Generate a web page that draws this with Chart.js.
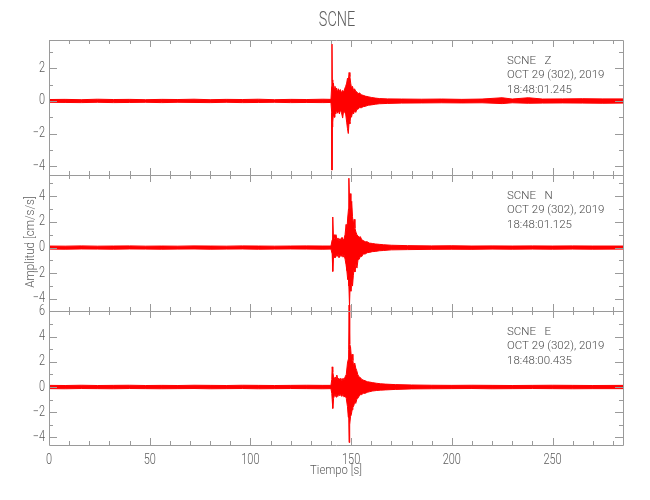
<!DOCTYPE html>
<html>
<head>
<meta charset="utf-8">
<script src="https://cdn.jsdelivr.net/npm/chart.js@4.4.0/dist/chart.umd.min.js"></script>
<style>
  html, body { margin: 0; background: #fff; }
  #wrap { position: relative; width: 650px; height: 500px; }
  #wrap canvas { position: absolute; left: 0; top: 0; }
</style>
</head>
<body>
<div id="wrap">
  <canvas id="chartZ" width="650" height="500"></canvas>
  <canvas id="chartN" width="650" height="500"></canvas>
  <canvas id="chartE" width="650" height="500"></canvas>
</div>
<script>
// values (envelope of each trace, cm/s/s)
const STATION = 'SCNE';
const X_TICKS = [0, 50, 100, 150, 200, 250];
const X_MAX = 285;

const Z_TIME = [0, 8, 16, 24, 32, 40, 48, 56, 64, 72, 80, 88, 96, 104, 112, 120, 128, 136, 140,
  140.35, 140.5, 140.65, 140.9, 141.2, 141.6, 142, 142.4, 142.8, 143.2, 143.7, 144.2, 144.7, 145.2, 145.8,
  146.3, 146.8, 147.3, 147.8, 148.2, 148.6, 149, 149.4, 149.8, 150.2, 150.7, 151.2, 151.7, 152.3, 152.9,
  153.5, 154.2, 155, 156, 157, 158.5, 160, 162, 164, 168, 175, 185, 195, 205, 215,
  225, 230, 238, 245, 255, 265, 275, 285];
const Z_UP = [0.09, 0.10, 0.08, 0.11, 0.09, 0.10, 0.08, 0.10, 0.09, 0.11, 0.08, 0.10, 0.09, 0.11, 0.08, 0.10, 0.09, 0.11, 0.10,
  0.9, 3.5, 1.3, 0.9, 1.1, 0.7, 0.9, 0.6, 0.8, 0.55, 0.75, 0.6, 0.7, 0.5, 0.65,
  0.55, 0.75, 0.9, 1.1, 1.4, 1.2, 1.75, 1.5, 1.1, 0.8, 0.9, 0.65, 0.75, 0.6, 0.55,
  0.45, 0.5, 0.38, 0.35, 0.3, 0.26, 0.22, 0.18, 0.15, 0.13, 0.12, 0.11, 0.12, 0.10, 0.12,
  0.2, 0.12, 0.2, 0.12, 0.13, 0.14, 0.13, 0.13];
const Z_LO = [-0.08, -0.09, -0.10, -0.08, -0.10, -0.09, -0.08, -0.10, -0.08, -0.09, -0.10, -0.08, -0.10, -0.09, -0.08, -0.10, -0.09, -0.10, -0.09,
  -0.7, -4.25, -1.6, -1.3, -0.8, -1.0, -0.6, -0.8, -0.55, -0.75, -0.6, -0.8, -0.55, -0.7, -1.05,
  -0.6, -0.7, -0.8, -1.3, -1.7, -2.0, -1.3, -1.4, -0.9, -1.0, -0.7, -0.8, -0.6, -0.7, -0.5,
  -0.5, -0.4, -0.42, -0.35, -0.33, -0.26, -0.24, -0.2, -0.17, -0.15, -0.13, -0.12, -0.11, -0.12, -0.11,
  -0.16, -0.11, -0.14, -0.13, -0.12, -0.13, -0.14, -0.13];

const N_TIME = [0, 8, 16, 24, 32, 40, 48, 56, 64, 72, 80, 88, 96, 104, 112, 120, 128, 136, 140,
  140.6, 140.9, 141.2, 141.6, 142, 142.5, 143, 143.5, 144, 144.5, 145, 145.5, 146, 146.5, 147, 147.5, 147.9,
  148.3, 148.7, 148.9, 149.2, 149.5, 149.9, 150.3, 150.7, 151.1, 151.5, 151.9, 152.4, 152.9, 153.4, 154,
  154.6, 155.3, 156, 157, 158, 159, 160.5, 162, 164, 166, 170, 178, 190,
  200, 210, 220, 230, 240, 250, 260, 270, 285];
const N_UP = [0.12, 0.11, 0.13, 0.11, 0.12, 0.13, 0.11, 0.12, 0.11, 0.13, 0.12, 0.11, 0.13, 0.12, 0.11, 0.12, 0.13, 0.12, 0.12,
  0.6, 2.38, 0.9, 1.0, 0.7, 1.0, 0.6, 0.75, 0.55, 0.7, 0.6, 0.8, 0.6, 0.7, 1.0, 1.8, 1.3,
  2.3, 3.0, 5.4, 3.8, 4.2, 3.0, 3.6, 2.4, 1.8, 2.2, 1.5, 1.2, 1.0, 0.9, 0.8,
  0.85, 0.6, 0.55, 0.45, 0.45, 0.35, 0.32, 0.28, 0.25, 0.22, 0.18, 0.15, 0.13,
  0.14, 0.12, 0.13, 0.12, 0.13, 0.12, 0.13, 0.12, 0.12];
const N_LO = [-0.12, -0.13, -0.11, -0.12, -0.13, -0.11, -0.12, -0.13, -0.12, -0.11, -0.13, -0.12, -0.11, -0.13, -0.12, -0.11, -0.12, -0.13, -0.12,
  -0.5, -1.86, -0.9, -0.6, -0.8, -0.6, -0.7, -0.55, -0.8, -0.6, -0.7, -0.55, -0.75, -0.6, -0.9, -1.35, -1.8,
  -2.5, -2.2, -3.0, -4.55, -3.0, -3.4, -2.6, -3.0, -2.2, -1.6, -1.9, -1.3, -1.6, -1.0, -0.9,
  -0.7, -0.7, -0.5, -0.5, -0.4, -0.38, -0.32, -0.3, -0.25, -0.23, -0.18, -0.16, -0.14,
  -0.13, -0.14, -0.12, -0.13, -0.12, -0.13, -0.12, -0.13, -0.12];

const E_TIME = [0, 8, 16, 24, 32, 40, 48, 56, 64, 72, 80, 88, 96, 104, 112, 120, 128, 136, 140,
  140.4, 140.6, 140.9, 141.3, 141.7, 142.1, 142.5, 142.9, 143.4, 143.9, 144.4, 144.9, 145.4, 146, 146.5, 147, 147.6,
  148.2, 148.6, 148.8, 149, 149.3, 149.7, 150.1, 150.5, 150.9, 151.3, 151.8, 152.3, 152.8, 153.3, 153.9,
  154.6, 155.3, 156, 157, 158, 159, 160.5, 162.5, 164.5, 167, 172, 180, 190,
  200, 210, 220, 230, 240, 250, 260, 270, 285];
const E_UP = [0.13, 0.12, 0.14, 0.12, 0.13, 0.14, 0.12, 0.13, 0.12, 0.14, 0.13, 0.12, 0.14, 0.13, 0.12, 0.13, 0.14, 0.13, 0.13,
  0.6, 1.6, 1.2, 0.8, 0.6, 0.8, 0.6, 0.95, 0.6, 0.7, 0.55, 0.7, 0.5, 0.7, 0.55, 0.8, 1.0,
  1.9, 2.2, 3.0, 6.5, 3.4, 3.2, 2.4, 2.6, 2.1, 1.6, 1.9, 1.5, 1.3, 1.0, 0.8,
  0.75, 0.6, 0.55, 0.5, 0.42, 0.4, 0.35, 0.3, 0.26, 0.23, 0.19, 0.16, 0.14,
  0.13, 0.14, 0.13, 0.12, 0.13, 0.14, 0.13, 0.12, 0.13];
const E_LO = [-0.13, -0.14, -0.12, -0.13, -0.14, -0.12, -0.13, -0.14, -0.13, -0.12, -0.14, -0.13, -0.12, -0.14, -0.13, -0.12, -0.13, -0.14, -0.13,
  -0.5, -1.0, -1.7, -0.9, -0.7, -0.55, -0.8, -0.6, -0.75, -0.55, -0.7, -0.6, -0.75, -0.55, -0.8, -0.7, -0.9,
  -1.56, -2.4, -2.0, -4.4, -3.0, -2.35, -2.2, -1.8, -1.6, -1.5, -1.2, -1.3, -1.0, -0.9, -0.75,
  -0.6, -0.6, -0.5, -0.5, -0.42, -0.38, -0.32, -0.28, -0.25, -0.23, -0.19, -0.15, -0.14,
  -0.13, -0.12, -0.14, -0.13, -0.12, -0.13, -0.14, -0.13, -0.13];

const Z_TICKS = [-4, -2, 0, 2];
const N_TICKS = [-4, -2, 0, 2, 4];
const E_TICKS = [-4, -2, 0, 2, 4, 6];
const Z_RANGE = [-4.55, 3.75];
const N_RANGE = [-4.94, 5.65];
const E_RANGE = [-4.6, 6.03];

const Z_INFO = ['SCNE   Z', 'OCT 29 (302), 2019', '18:48:01.245'];
const N_INFO = ['SCNE   N', 'OCT 29 (302), 2019', '18:48:01.125'];
const E_INFO = ['SCNE   E', 'OCT 29 (302), 2019', '18:48:00.435'];

const FONT = 'Roboto, "DejaVu Sans", sans-serif';
const RED = '#ff0000';
const AXIS = '#9a9a9a';
const TEXT = '#5c5c5c';

// narrow text, the reference uses a thin condensed plotter font
function text(ctx, str, x, y, size, sx, align, color) {
  ctx.save();
  ctx.font = '300 ' + size + 'px ' + FONT;
  ctx.fillStyle = color || TEXT;
  ctx.textAlign = align;
  ctx.textBaseline = 'middle';
  ctx.translate(x, y);
  ctx.scale(sx, 1);
  ctx.fillText(str, 0, 0);
  ctx.restore();
}

const framePlugin = {
  id: 'frame',
  afterDraw(chart, _args, opts) {
    const { ctx, chartArea: a, scales } = chart;
    const x = scales.x, y = scales.y;
    ctx.save();
    ctx.strokeStyle = AXIS;
    ctx.lineWidth = 1;
    ctx.beginPath();
    ctx.rect(Math.round(a.left) + 0.5, Math.round(a.top) + 0.5, Math.round(a.width), Math.round(a.height));
    // x ticks, inward on top and bottom
    for (let t = 0; t <= X_MAX; t += 10) {
      const px = Math.round(x.getPixelForValue(t)) + 0.5;
      const len = t % 50 === 0 ? 7 : 4;
      ctx.moveTo(px, a.top); ctx.lineTo(px, a.top + len);
      ctx.moveTo(px, a.bottom); ctx.lineTo(px, a.bottom - len);
    }
    // y ticks, inward on left and right
    for (let v = Math.ceil(y.min); v <= Math.floor(y.max); v += 1) {
      const py = Math.round(y.getPixelForValue(v)) + 0.5;
      const len = opts.major.includes(v) ? 8 : 4;
      ctx.moveTo(a.left, py); ctx.lineTo(a.left + len, py);
      ctx.moveTo(a.right, py); ctx.lineTo(a.right - len, py);
    }
    ctx.stroke();
    ctx.restore();

    opts.major.forEach((v) => text(ctx, String(v).replace('-', '\u2212'), a.left - 4, y.getPixelForValue(v), 14, 0.78, 'right'));
    opts.info.forEach((line, i) => text(ctx, line, 507, a.top + 21 + i * 14.5, 11.5, 1, 'left', '#4a4a4a'));

    if (opts.title) text(ctx, opts.title, 337, 21, 20, 0.72, 'center');
    if (opts.yTitle) {
      ctx.save();
      ctx.translate(31, 242);
      ctx.rotate(-Math.PI / 2);
      text(ctx, opts.yTitle, 0, 0, 13.5, 0.86, 'center');
      ctx.restore();
    }
    if (opts.xTitle) {
      X_TICKS.forEach((t) => text(ctx, String(t), x.getPixelForValue(t), 460, 14, 0.78, 'center'));
      text(ctx, opts.xTitle, 336, 471, 13.5, 0.84, 'center');
    }
  }
};

function buildPanel(id, time, up, low, ticks, range, info, bottomPad, extra) {
  const toPts = (vals) => vals.map((v, i) => ({ x: time[i], y: v }));
  return new Chart(document.getElementById(id), {
    type: 'line',
    data: {
      datasets: [
        { data: toPts(up), borderColor: RED, borderWidth: 1, pointRadius: 0, fill: false, clip: false },
        { data: toPts(low), borderColor: RED, borderWidth: 1, pointRadius: 0, fill: '-1', backgroundColor: RED, clip: false },
      ],
    },
    plugins: [framePlugin],
    options: {
      responsive: false,
      animation: false,
      devicePixelRatio: 1,
      layout: { padding: { top: extra.top, bottom: bottomPad, left: 49, right: 27 } },
      plugins: {
        legend: { display: false },
        tooltip: { enabled: false },
        frame: { major: ticks, info, title: extra.title, yTitle: extra.yTitle, xTitle: extra.xTitle },
      },
      scales: {
        x: { type: 'linear', min: 0, max: X_MAX, display: false },
        y: { type: 'linear', min: range[0], max: range[1], display: false },
      },
    },
  });
}

buildPanel('chartZ', Z_TIME, Z_UP, Z_LO, Z_TICKS, Z_RANGE, Z_INFO, 325, { top: 40, title: STATION });
buildPanel('chartN', N_TIME, N_UP, N_LO, N_TICKS, N_RANGE, N_INFO, 189, { top: 175, yTitle: 'Amplitud [cm/s/s]' });
buildPanel('chartE', E_TIME, E_UP, E_LO, E_TICKS, E_RANGE, E_INFO, 55, { top: 311, xTitle: 'Tiempo [s]' });
</script>
</body>
</html>
